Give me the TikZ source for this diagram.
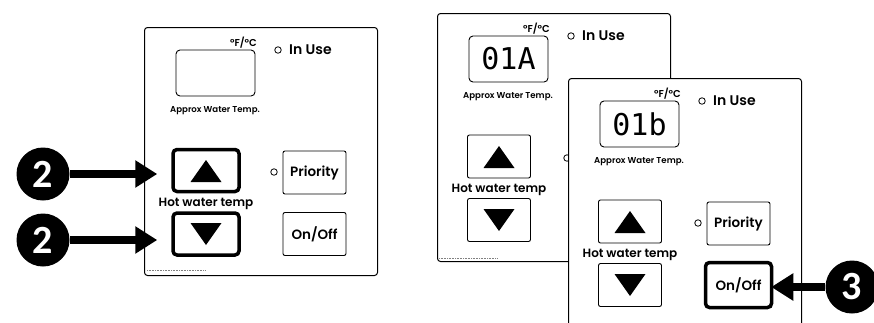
\documentclass[tikz,border=0pt]{standalone}
\usepackage{fontspec}
\setmainfont{Poppins}[UprightFont=*-SemiBold, BoldFont=*-SemiBold]
\newfontfamily\callfont{Carlito}
\newfontfamily\segfont{DejaVu Sans Mono}
\usetikzlibrary{arrows.meta,calc}
\tikzset{
  panel/.style={draw, line width=1pt, rounded corners=3pt, fill=white, minimum width=233pt, minimum height=248pt, inner sep=0pt, anchor=north west},
  disp/.style={draw, line width=0.9pt, rounded corners=4pt, minimum width=79pt, minimum height=46pt, inner sep=0pt, font=\segfont\fontsize{30}{30}\selectfont},
  btn/.style={draw, line width=0.9pt, rounded corners=2pt, minimum width=63pt, minimum height=43pt, inner sep=0pt, font=\fontsize{13.5}{13.5}\selectfont},
  thickbtn/.style={btn, line width=3.5pt, rounded corners=4pt, minimum width=66pt, minimum height=42pt},
  led/.style={circle, draw, line width=0.8pt, minimum size=6.5pt, inner sep=0pt},
  unitlbl/.style={inner sep=0pt, font=\bfseries\fontsize{10}{10}\selectfont},
  inuselbl/.style={inner sep=0pt, font=\fontsize{14}{14}\selectfont},
  approxlbl/.style={inner sep=0pt, font=\fontsize{8.6}{8.6}\selectfont},
  hwtlbl/.style={inner sep=0pt, font=\fontsize{12}{12}\selectfont},
  callout/.style={circle, fill=black, text=white, minimum size=53pt, inner sep=0pt, font=\callfont\bfseries\fontsize{40}{40}\selectfont},
  callarrow/.style={line width=8pt, -{Triangle[length=22pt,width=26pt]}},
  tri/.style={fill=black},
  remnant/.style={densely dotted, line width=0.6pt, gray}
}
\newcommand\drawpanel[6]{%
  \begin{scope}[shift={(#2,#3)}]
    \node[panel] (#1) at (0,0) {};
    \node[disp] (#1disp) at (71.5,46) {#4};
    \node[unitlbl, anchor=base east] (#1unit) at (113,19) {°F/°C};
    \node[led] (#1led) at (134,23) {};
    \node[inuselbl, anchor=west] (#1inuse) at (145,23) {In Use};
    \node[approxlbl, anchor=west] (#1approx) at (26,84) {Approx Water Temp.};
    \node[#5] (#1up) at (62,143.5) {};
    \fill[tri] ([shift={(-15.5,11.5)}]#1up.center) -- ++(31,0) -- ++(-15.5,-22) -- cycle;
    \node[hwtlbl] (#1hwt) at (62,177) {Hot water temp};
    \node[#6] (#1down) at (62,207) {};
    \fill[tri] ([shift={(-15.5,-11)}]#1down.center) -- ++(31,0) -- ++(-15.5,22) -- cycle;
    \node[led] (#1pled) at (130,145) {};
  \end{scope}}
\newcommand\drawright[4]{%
  \begin{scope}[shift={(#2,#3)}]
    \node[btn] (#1prio) at (170.5,145.5) {Priority};
    \node[#4] (#1onoff) at (170.5,207) {On/Off};
  \end{scope}}
\begin{document}
\begin{tikzpicture}[x=1pt,y=-1pt]
  \clip (0,0) rectangle (874,322);
  \fill[white] (0,0) rectangle (874,322);
  \drawpanel{pa}{144}{27}{}{thickbtn}{thickbtn}
  \drawright{pa}{144}{27}{btn}
  \draw[remnant] (147,270) -- (205,270);
  \drawpanel{pb}{437}{13}{01A}{btn}{btn}
  \draw[remnant] (439,258) -- (497,258);
  \drawpanel{pc}{568}{78}{01b}{btn}{btn}
  \drawright{pc}{568}{78}{thickbtn, minimum height=45pt, minimum width=66pt}
  \node[callout] (c1) at (43,174) {2};
  \node[callout] (c2) at (43,240) {2};
  \node[callout] (c3) at (852,287) {3};
  \draw[callarrow, shorten >=14pt] (c1.east) -- (c1 -| paup.west);
  \draw[callarrow, shorten >=14pt] (c2.east) -- (c2 -| padown.west);
  \draw[callarrow, shorten >=-2pt] (c3.west) -- (c3 -| pconoff.east);
\end{tikzpicture}
\end{document}
